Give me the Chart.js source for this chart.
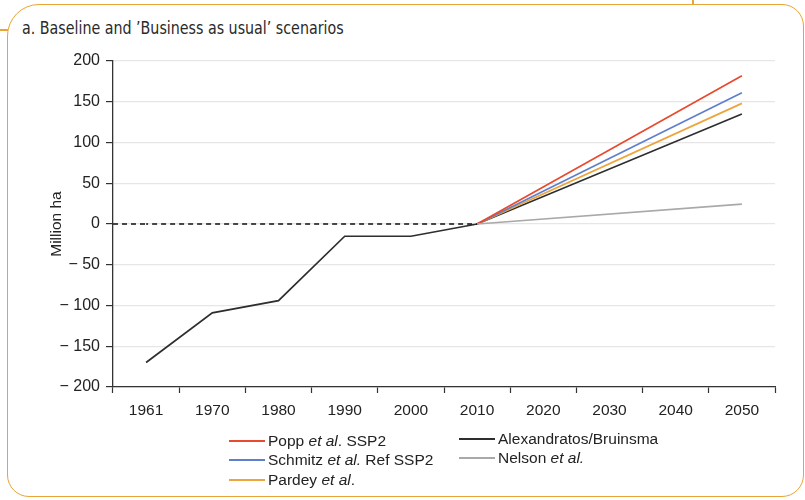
<!DOCTYPE html>
<html>
<head>
<meta charset="utf-8">
<script src="https://cdn.jsdelivr.net/npm/chart.js@4"></script>
<style>
  html, body { margin:0; padding:0; background:#fff; }
  #wrap { position:relative; width:805px; height:500px; overflow:hidden; font-family:"Liberation Sans", Arial, sans-serif; }
  #frame { position:absolute; left:7px; top:4px; width:797px; height:493px; box-sizing:border-box;
           border:1.5px solid #e8a437; border-radius:32px 22px 22px 22px; }
  .stub { position:absolute; background:#e8a437; }
  #title { position:absolute; left:22px; top:18px; font-family:"Liberation Sans Narrow","DejaVu Sans Condensed","Liberation Sans",sans-serif;
           font-size:17.5px; color:#2a2a2a; white-space:nowrap; transform:scaleX(0.905); transform-origin:0 0; }
  canvas { position:absolute; left:0; top:0; }
  .leg { position:absolute; height:18px; line-height:18px; font-size:15.5px; color:#222; white-space:nowrap; }
  .leg span.ln { display:inline-block; width:36px; height:1.6px; vertical-align:middle; margin-right:3px; position:relative; top:-1px; }
</style>
</head>
<body>
<div id="wrap">
  <div id="frame"></div>
  <div class="stub" style="left:0;top:29px;width:8px;height:1.5px;"></div>
  <div class="stub" style="left:692px;top:0;width:1.5px;height:5px;"></div>
  <div id="title">a. Baseline and ’Business as usual’ scenarios</div>
  <canvas id="c" width="805" height="500"></canvas>
  <div id="legend"></div>
</div>
<script>
// ---- Data ----
const years = ['1961','1970','1980','1990','2000','2010','2020','2030','2040','2050'];
const poppSSP2      = [null, null, null, null, null, 0, null, null, null, 182];
const schmitzSSP2   = [null, null, null, null, null, 0, null, null, null, 161];
const pardey        = [null, null, null, null, null, 0, null, null, null, 148];
const alexandratos  = [-170, -109, -94, -15, -15, 0, null, null, null, 135];
const nelson        = [null, null, null, null, null, 0, null, null, null, 24.5];
const zeroBaseline  = [0, 0, 0, 0, 0, 0, null, null, null, null];
const yTicks = [-200, -150, -100, -50, 0, 50, 100, 150, 200];

const seriesNames = {
  popp: 'Popp <i>et al</i>. SSP2',
  schmitz: 'Schmitz <i>et al.</i> Ref SSP2',
  pardey: 'Pardey <i>et al</i>.',
  alex: 'Alexandratos/Bruinsma',
  nelson: 'Nelson <i>et al.</i>'
};
const colors = { popp:'#e9492f', schmitz:'#5f7fcc', pardey:'#eba53c', alex:'#2e2e2e', nelson:'#a9a9a9' };

// ---- Legend (HTML, for mixed italic text) ----
const legendItems = [
  { k:'popp',    left:229, top:432 },
  { k:'schmitz', left:229, top:451 },
  { k:'pardey',  left:229, top:471 },
  { k:'alex',    left:459, top:430 },
  { k:'nelson',  left:459, top:449 }
];
const legendEl = document.getElementById('legend');
legendItems.forEach(it => {
  const d = document.createElement('div');
  d.className = 'leg';
  d.style.left = it.left + 'px';
  d.style.top = it.top + 'px';
  d.innerHTML = '<span class="ln" style="background:' + colors[it.k] + '"></span>' + seriesNames[it.k];
  legendEl.appendChild(d);
});

Chart.defaults.font.family = '"Liberation Sans", Arial, sans-serif';
Chart.defaults.font.size = 15;
Chart.defaults.color = '#222';

// extends the dashed zero line to the left edge of the plot area
const extendBaseline = {
  id: 'extendBaseline',
  beforeDatasetsDraw(chart) {
    const meta = chart.getDatasetMeta(0);
    const first = meta.data[0];
    if (!first) return;
    const ctx = chart.ctx;
    ctx.save();
    ctx.strokeStyle = '#111';
    ctx.lineWidth = 1.4;
    ctx.setLineDash([5, 4]);
    ctx.beginPath();
    ctx.moveTo(chart.chartArea.left, first.y);
    ctx.lineTo(first.x, first.y);
    ctx.stroke();
    ctx.restore();
  }
};

const mk = (data, color, extra) => Object.assign({
  data, borderColor: color, backgroundColor: color, borderWidth: 1.7,
  pointRadius: 0, pointHoverRadius: 0, spanGaps: true, tension: 0, fill: false
}, extra || {});

new Chart(document.getElementById('c'), {
  type: 'line',
  data: {
    labels: years,
    datasets: [
      mk(zeroBaseline, '#111', { borderDash: [5, 4], borderDashOffset: 3, borderWidth: 1.4 }),
      mk(nelson, colors.nelson),
      mk(poppSSP2, colors.popp),
      mk(schmitzSSP2, colors.schmitz),
      mk(pardey, colors.pardey),
      mk(alexandratos, colors.alex)
    ]
  },
  options: {
    responsive: false,
    animation: false,
    events: [],
    layout: { padding: { left: 44, top: 61, right: 30, bottom: 0 } },
    plugins: { legend: { display: false }, tooltip: { enabled: false } },
    scales: {
      x: {
        type: 'category',
        offset: true,
        grid: { offset: true, drawOnChartArea: false, tickLength: 6, tickColor: '#333', tickWidth: 1.2 },
        border: { color: '#333', width: 1.3 },
        ticks: { padding: 8, maxRotation: 0, autoSkip: false, color: '#222', font: { size: 15.5 } },
        afterFit(scale) { scale.height = 113; }
      },
      y: {
        min: -200, max: 200,
        afterBuildTicks(scale) { scale.ticks = yTicks.map(v => ({ value: v })); },
        grid: { color: '#e6e6e6', lineWidth: 1.2, tickLength: 7, tickColor: '#333', tickWidth: 1.2 },
        border: { color: '#333', width: 1.3 },
        ticks: {
          padding: 6, color: '#222', font: { size: 16 },
          callback: v => v < 0 ? '\u2212 ' + Math.abs(v) : String(v)
        },
        title: { display: true, text: 'Million ha', color: '#222', font: { size: 15.5 }, padding: { top: 3, bottom: 0 } },
        afterFit(scale) { scale.width = 113 - 44; }
      }
    }
  },
  plugins: [extendBaseline]
});
</script>
</body>
</html>
